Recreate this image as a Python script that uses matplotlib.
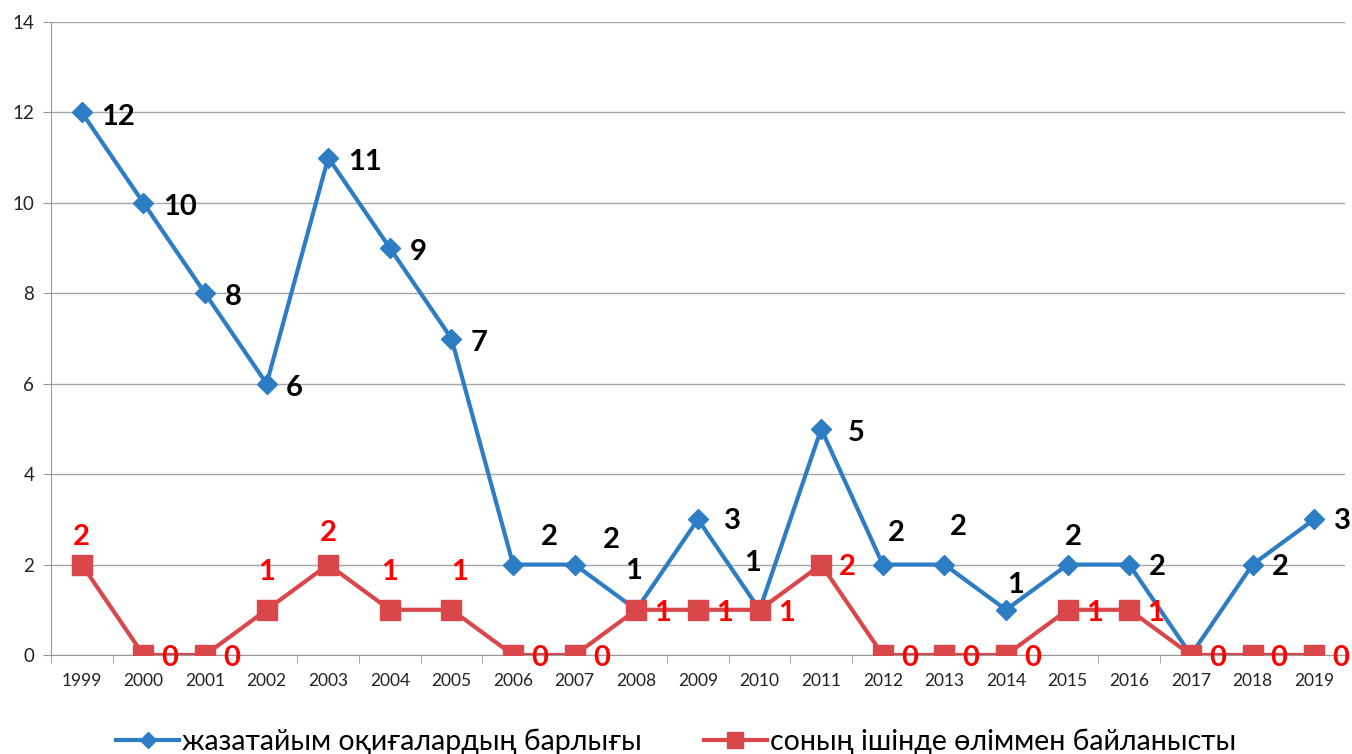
import matplotlib
matplotlib.use("Agg")
import matplotlib.pyplot as plt
import numpy as np

plt.rcParams['font.family'] = ['Lato', 'Noto Sans', 'DejaVu Sans']

years = [str(y) for y in range(1999, 2020)]
total = [12, 10, 8, 6, 11, 9, 7, 2, 2, 1, 3, 1, 5, 2, 2, 1, 2, 2, 0, 2, 3]
deaths = [2, 0, 0, 1, 2, 1, 1, 0, 0, 1, 1, 1, 2, 0, 0, 0, 1, 1, 0, 0, 0]
total_name = "жазатайым оқиғалардың барлығы"
deaths_name = "соның ішінде өліммен байланысты"

# label offsets in points (dx, dy); None = label not shown
total_off = [(14, -3)] * 7 + [(20, 20), (20, 18), (-2, 28), (19, -1), (-5, 34),
             (19, -3), (10, 23), (10, 27), (7, 18), (4, 20), (14, -2), None,
             (14, -2), (14, -1)]
deaths_off = [(0, 20), (13, -2), (13, -2), (0, 27), (0, 23), (0, 27), (6, 27),
              (13, -2), (13, -2)] + [(13, -2)] * 12

blue = '#2C7DC3'
red = '#D9474B'

fig = plt.figure(figsize=(13.52, 7.54), dpi=100)
ax = fig.add_axes([0.0377, 0.1313, 0.9571, 0.8395])

x = np.arange(len(years))
ax.plot(x, total, color=blue, lw=3, marker='D', ms=10, label=total_name, zorder=3)
ax.plot(x, deaths, color=red, lw=3, marker='s', ms=14, label=deaths_name, zorder=4)

for xi, v, off in zip(x, total, total_off):
    if off is None:
        continue
    ax.annotate(str(v), (xi, v), xytext=off, textcoords='offset points',
                ha='left' if off[0] > 12 else 'center', va='center',
                fontsize=21, fontweight='bold', color='black', zorder=5)
for xi, v, off in zip(x, deaths, deaths_off):
    ax.annotate(str(v), (xi, v), xytext=off, textcoords='offset points',
                ha='left' if off[0] > 12 else 'center', va='center',
                fontsize=21, fontweight='bold', color='#FF0000', zorder=5)

ax.set_xlim(-0.5, len(years) - 0.5)
ax.set_ylim(0, 14)
ax.set_yticks(range(0, 15, 2))
ax.set_xticks(x)
ax.set_xticklabels(years)
ax.set_xticks(np.arange(-0.5, len(years)), minor=True)
ax.tick_params(axis='x', which='major', length=0, pad=13, labelsize=12.5, labelcolor='#222222')
ax.tick_params(axis='x', which='minor', length=6, direction='out', color='#999999')
ax.tick_params(axis='y', length=6, direction='out', color='#999999', labelsize=13.5,
               labelcolor='#222222', pad=6)
ax.grid(axis='y', color='#A6A6A6', lw=1)
ax.set_axisbelow(True)
for s in ['top', 'right']:
    ax.spines[s].set_visible(False)
for s in ['left', 'bottom']:
    ax.spines[s].set_color('#999999')

fig.legend(loc='lower center', bbox_to_anchor=(0.5, -0.035), ncol=2, frameon=False,
           fontsize=20.5, handlelength=2.2, handletextpad=0.1, columnspacing=2.2,
           markerscale=0.8)

fig.savefig('out.png', dpi=100)
